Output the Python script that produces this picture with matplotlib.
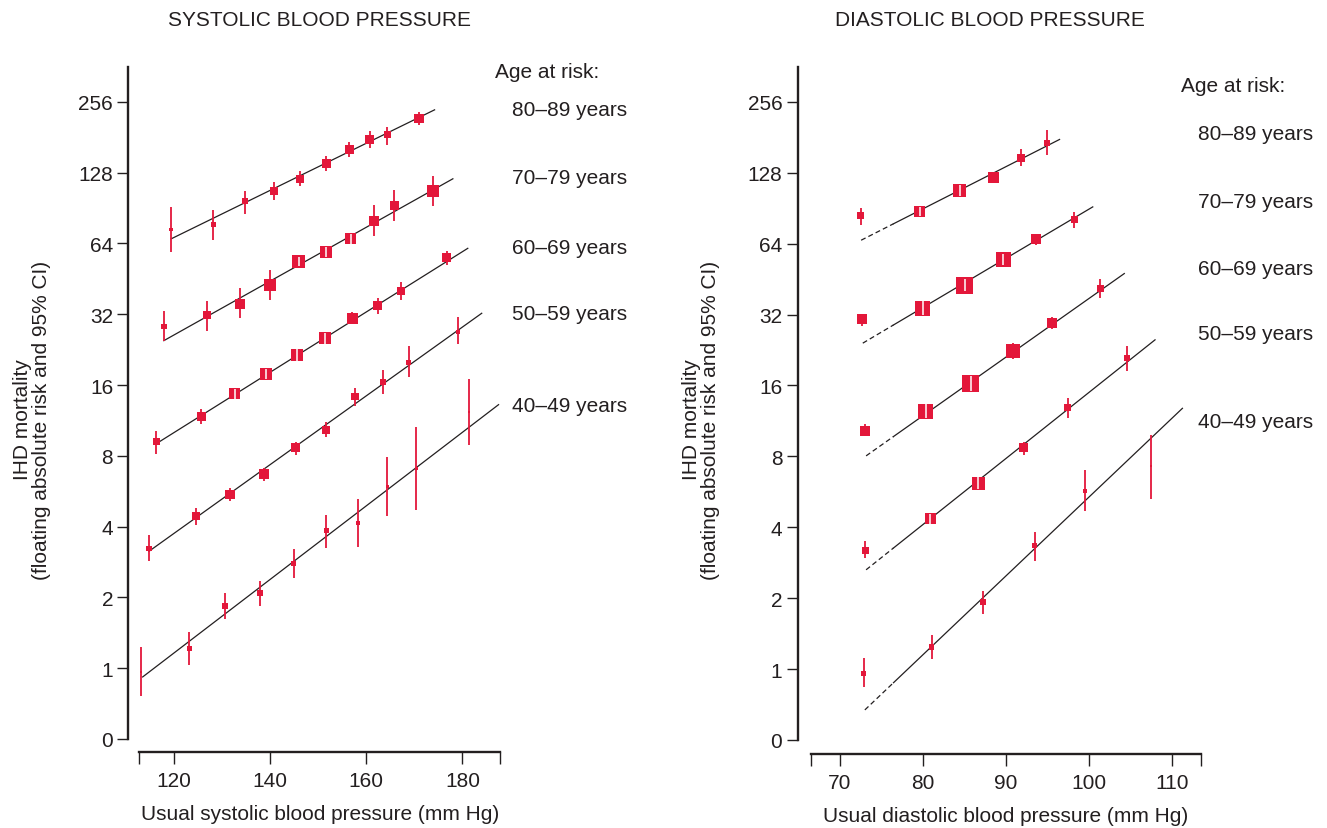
import numpy as np
import matplotlib
matplotlib.use("Agg")
import matplotlib.pyplot as plt
from matplotlib.ticker import NullLocator

plt.rcParams['font.family'] = ['Liberation Sans', 'DejaVu Sans']

RED = '#e3173a'
INK = '#231f20'
W, H = 1327, 829

age_groups = ['80–89 years', '70–79 years', '60–69 years', '50–59 years', '40–49 years']

# --- systolic: group mean SBP, floating absolute risk, 95% CI, box size (px) ---
sbp_mmhg = [
    [119.4, 128.2, 134.7, 140.8, 146.3, 151.7, 156.5, 160.7, 164.4, 171.0],
    [117.9, 126.9, 133.7, 139.9, 146.0, 151.7, 156.8, 161.6, 165.8, 173.9],
    [116.3, 125.7, 132.6, 139.2, 145.5, 151.5, 157.1, 162.4, 167.2, 176.7],
    [114.8, 124.6, 131.7, 138.7, 145.3, 151.7, 157.7, 163.5, 168.8, 179.1],
    [113.2, 123.2, 130.6, 137.9, 144.9, 151.7, 158.2, 164.4, 170.4, 181.3],
]
sbp_risk = [
    [73.3, 77.0, 96.5, 107, 120, 140, 161, 177, 185, 217],
    [28.4, 31.6, 35.4, 42.5, 53.6, 58.9, 66.9, 80, 93, 107],
    [9.17, 11.8, 14.7, 17.8, 21.5, 25.3, 30.8, 34.8, 40.2, 55.5],
    [3.23, 4.43, 5.49, 6.68, 8.64, 10.33, 14.3, 16.4, 20.0, 27.0],
    [0.96, 1.21, 1.84, 2.09, 2.79, 3.84, 4.14, 5.9, 7.04, 12.3],
]
sbp_lo = [
    [58.7, 66.5, 85.6, 98.2, 112, 130.4, 149.5, 163.3, 168, 203.2],
    [24.7, 27.2, 30.8, 36.9, 51.2, 55.9, 63.7, 69.1, 80, 92.3],
    [8.17, 10.96, 14.0, 16.9, 20.3, 24.0, 29.0, 32.1, 36.7, 52.0],
    [2.85, 4.06, 5.15, 6.23, 8.1, 9.6, 13.0, 14.6, 17.3, 24.0],
    [0.765, 1.03, 1.62, 1.84, 2.41, 3.25, 3.28, 4.43, 4.69, 8.87],
]
sbp_hi = [
    [91.2, 88.8, 106.6, 116.4, 130, 150, 172, 191.6, 199.3, 230.7],
    [32.9, 36.5, 41.3, 49.5, 55.9, 61.6, 70.2, 93.2, 108, 123.8],
    [10.23, 12.6, 15.4, 18.8, 22.7, 26.7, 32.8, 37.5, 43.9, 59.3],
    [3.70, 4.81, 5.86, 7.1, 9.16, 11.1, 15.6, 18.5, 23.4, 31.2],
    [1.23, 1.43, 2.09, 2.35, 3.21, 4.5, 5.23, 7.92, 10.6, 17.0],
]
sbp_box = [
    [3.5, 5, 6, 7.5, 8, 9, 9, 9, 7, 9.5],
    [5.5, 8, 10, 12, 13, 12, 11, 10, 9, 12],
    [7, 9, 11, 12, 12, 12, 11, 9, 8, 9],
    [5.5, 7.5, 9.5, 9.5, 9, 8, 7.5, 6, 5, 4],
    [2, 5, 5.5, 5.5, 5, 5, 4, 3, 3, 2],
]
sbp_fit_x = [[119.4, 174.2], [117.9, 178.0], [116.3, 181.1], [114.8, 184.0], [113.5, 187.5]]
sbp_fit_y = [[66.9, 236.7], [24.7, 120.5], [9.0, 61.0], [3.14, 32.3], [0.918, 13.2]]

# --- diastolic ---
dbp_mmhg = [
    [72.56, 79.67, 84.5, 88.5, 91.84, 94.98],
    [72.7, 80.0, 85.1, 89.7, 93.7, 98.3],
    [73.1, 80.4, 85.8, 90.9, 95.6, 101.4],
    [73.1, 80.9, 86.7, 92.2, 97.5, 104.6],
    [72.9, 81.1, 87.3, 93.5, 99.6, 107.5],
]
dbp_risk = [
    [84, 87.9, 108, 121.8, 147.6, 172],
    [30.6, 34.1, 42.7, 54.8, 66.7, 81.3],
    [10.3, 12.45, 16.3, 22.4, 29.5, 41.4],
    [3.2, 4.34, 6.16, 8.69, 12.9, 20.95],
    [0.96, 1.24, 1.92, 3.34, 5.73, 7.25],
]
dbp_lo = [
    [76.9, 84, 102, 115.6, 137, 152],
    [28.7, 31.8, 40.2, 51.9, 63.1, 74.7],
    [9.75, 11.6, 15.1, 20.7, 27.7, 37.8],
    [2.95, 4.12, 5.8, 8.1, 11.7, 18.5],
    [0.836, 1.1, 1.72, 2.88, 4.69, 5.3],
]
dbp_hi = [
    [90.3, 92, 114, 128.7, 161, 194],
    [31.9, 36.5, 45.3, 57.8, 70.2, 87.6],
    [10.96, 13.3, 17.5, 24.2, 31.4, 45.5],
    [3.49, 4.57, 6.52, 9.22, 14.2, 23.6],
    [1.11, 1.39, 2.14, 3.82, 7.01, 9.84],
]
dbp_box = [
    [7, 11, 13, 11, 8, 6],
    [10, 15, 17, 15, 10, 7],
    [10, 15, 17, 14, 10, 7],
    [7, 11, 13, 9, 7, 5.5],
    [5.5, 5.5, 6, 5.5, 4, 2],
]
dbp_fit_x = [[72.6, 96.5], [72.8, 100.5], [73.2, 104.3], [73.2, 108.0], [73.05, 111.3]]
dbp_fit_y = [[66.2, 177.3], [24.2, 91.7], [8.04, 47.8], [2.64, 25.0], [0.671, 12.8]]
dbp_dash_below = 76.5

y_ticks = [0.5, 1, 2, 4, 8, 16, 32, 64, 128, 256]
y_labels = ['0', '1', '2', '4', '8', '16', '32', '64', '128', '256']
sbp_xlim = (112.8, 187.8)
dbp_xlim = (66.6, 113.5)
sbp_ticks = [120, 140, 160, 180]
dbp_ticks = [70, 80, 90, 100, 110]
ylim = (0.5, 360)


def px_box(l, t, r, b):
    return [l / W, 1 - b / H, (r - l) / W, (b - t) / H]


def style_axes(ax, xlim, xticks, left_off, bottom_off):
    ax.set_yscale('log', base=2)
    ax.set_ylim(*ylim)
    ax.set_xlim(*xlim)
    ax.set_yticks(y_ticks)
    ax.set_yticklabels(y_labels)
    ax.yaxis.set_minor_locator(NullLocator())
    ax.set_xticks([xlim[0]] + xticks + [xlim[1]])
    ax.set_xticklabels([''] + [str(t) for t in xticks] + [''])
    for s in ('top', 'right'):
        ax.spines[s].set_visible(False)
    ax.spines['left'].set_position(('outward', left_off))
    ax.spines['bottom'].set_position(('outward', bottom_off))
    for s in ('left', 'bottom'):
        ax.spines[s].set_linewidth(1.7)
        ax.spines[s].set_color(INK)
    ax.tick_params(axis='both', colors=INK, labelcolor=INK, labelsize=15,
                   width=1.0, length=8)
    ax.tick_params(axis='y', pad=3)
    ax.tick_params(axis='x', pad=5, length=8.5)
    ax.patch.set_alpha(0)


def draw_series(ax, xs, ys, los, his, boxes, fx, fy, dash_below=None):
    if dash_below is not None:
        yb = np.exp(np.interp(dash_below, fx, np.log(fy)))
        ax.plot([fx[0], dash_below], [fy[0], yb], color=INK, lw=0.9,
                ls=(0, (4, 2.5)), zorder=1.5)
        ax.plot([dash_below, fx[1]], [yb, fy[1]], color=INK, lw=0.9, zorder=1.5)
    else:
        ax.plot(fx, fy, color=INK, lw=0.9, zorder=1.5)
    ax.vlines(xs, los, his, color=RED, lw=1.3, zorder=2)
    ax.scatter(xs, ys, s=(np.array(boxes) * 0.72) ** 2, marker='s',
               color=RED, linewidths=0, zorder=3)


def white_ci(ax, xs, ys, los, his, boxes):
    # CI fully hidden by the box is drawn in white on top of it
    for x, y, lo, hi, b in zip(xs, ys, los, his, boxes):
        (_, py), (_, plo), (_, phi) = ax.transData.transform([(x, y), (x, lo), (x, hi)])
        if py - plo <= b / 2 and phi - py <= b / 2:
            ax.plot([x, x], [lo, hi], color='white', lw=1.1, zorder=4,
                    solid_capstyle='butt')


fig = plt.figure(figsize=(W / 100, H / 100), dpi=100)
ax1 = fig.add_axes(px_box(139.3, 68, 500, 740))
ax2 = fig.add_axes(px_box(811.3, 68, 1200.7, 741))

style_axes(ax1, sbp_xlim, sbp_ticks, 7.8, 9.6)
style_axes(ax2, dbp_xlim, dbp_ticks, 9.9, 10.0)

for i in range(len(age_groups)):
    draw_series(ax1, sbp_mmhg[i], sbp_risk[i], sbp_lo[i], sbp_hi[i], sbp_box[i],
                sbp_fit_x[i], sbp_fit_y[i])
    draw_series(ax2, dbp_mmhg[i], dbp_risk[i], dbp_lo[i], dbp_hi[i], dbp_box[i],
                dbp_fit_x[i], dbp_fit_y[i], dash_below=dbp_dash_below)

for i in range(len(age_groups)):
    white_ci(ax1, sbp_mmhg[i], sbp_risk[i], sbp_lo[i], sbp_hi[i], sbp_box[i])
    white_ci(ax2, dbp_mmhg[i], dbp_risk[i], dbp_lo[i], dbp_hi[i], dbp_box[i])

for ax, label in ((ax1, 'Usual systolic blood pressure (mm Hg)'),
                  (ax2, 'Usual diastolic blood pressure (mm Hg)')):
    ax.set_xlabel(label, fontsize=15, color=INK, labelpad=10)

ylab = 'IHD mortality\n(floating absolute risk and 95% CI)'
fig.text(32 / W, 1 - 420 / H, ylab, rotation=90, ha='center', va='center',
         fontsize=15, color=INK, linespacing=1.0, multialignment='center')
fig.text(701 / W, 1 - 420 / H, ylab, rotation=90, ha='center', va='center',
         fontsize=15, color=INK, linespacing=1.0, multialignment='center')

fig.text(320 / W, 1 - 20 / H, 'SYSTOLIC BLOOD PRESSURE', ha='center', va='center',
         fontsize=15, color=INK)
fig.text(990 / W, 1 - 20 / H, 'DIASTOLIC BLOOD PRESSURE', ha='center', va='center',
         fontsize=15, color=INK)

# age-group captions beside each panel
left_label_y = [110, 178, 248, 315, 407]
right_label_y = [135, 203, 270, 335, 423]
fig.text(495 / W, 1 - 73 / H, 'Age at risk:', va='center', fontsize=15, color=INK)
fig.text(1181 / W, 1 - 86 / H, 'Age at risk:', va='center', fontsize=15, color=INK)
for g, yl, yr in zip(age_groups, left_label_y, right_label_y):
    fig.text(512 / W, 1 - yl / H, g, va='center', fontsize=15, color=INK)
    fig.text(1198 / W, 1 - yr / H, g, va='center', fontsize=15, color=INK)

fig.savefig('out.png', dpi=100)
